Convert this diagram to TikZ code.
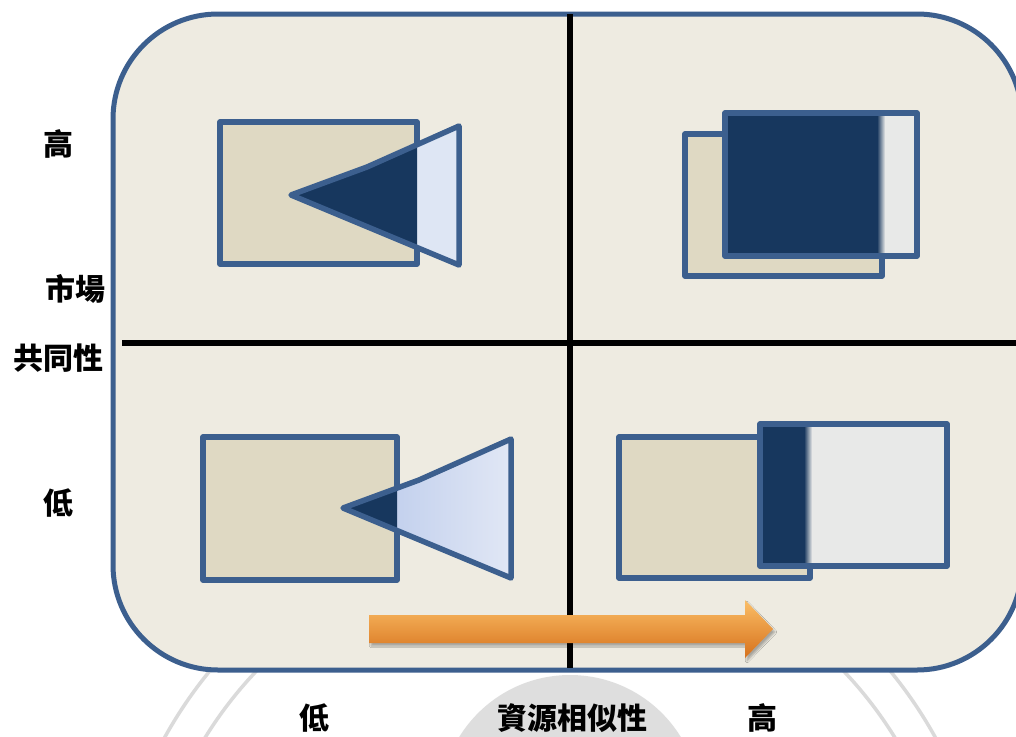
\documentclass[tikz,border=0pt]{standalone}
\usepackage{fontspec}
\newfontfamily\cjk{Noto Sans CJK TC}
\usetikzlibrary{shadows.blur}
\definecolor{bord}{HTML}{3C5F8E}
\definecolor{bg}{HTML}{EEEBE1}
\definecolor{beige}{HTML}{DFD9C3}
\definecolor{navy}{HTML}{17375E}
\definecolor{lblue}{HTML}{DEE6F4}
\definecolor{lgray}{HTML}{E8E9E8}
\definecolor{wmfill}{HTML}{DEDEDE}
\definecolor{wmline}{HTML}{DADADA}
\definecolor{gradA}{RGB}{182,199,234}
\definecolor{gradB}{RGB}{225,231,245}
\definecolor{orTop}{HTML}{FBBE66}
\definecolor{orMid}{HTML}{F79331}
\definecolor{orBot}{HTML}{D6711C}
\tikzset{
  box/.style={draw=bord, line width=5.5pt, line join=round},
  panel/.style={draw=bord, line width=5pt},
  axisline/.style={line width=6.5pt, black},
  lbl/.style={font=\cjk\bfseries\fontsize{30pt}{30pt}\selectfont, inner sep=0pt, text=black},
  wmring/.style={draw=wmline, line width=3.5pt}
}
\begin{document}
\begin{tikzpicture}[x=1pt,y=-1pt]
\useasboundingbox (0,0) rectangle (1016,736);
\fill[white] (0,0) rectangle (1016,736);
% faint watermark
\fill[wmfill] (570,805) circle (130);
\draw[wmring] (550,950) circle (440);
\draw[wmring] (550,950) circle (405);
% main panel
\draw[panel, fill=bg, rounded corners=105pt] (113,14) rectangle (1022,670);
% axes
\draw[axisline] (570,14) -- (570,668);
\draw[axisline] (122,343) -- (1016,343);
% top-left
\draw[box, fill=beige] (220,122) rectangle (417,264);
\fill[lblue] (291,195) -- (367,167) -- (459,126) -- (459,265) -- cycle;
\begin{scope}
  \clip (220,122) rectangle (417,264);
  \fill[navy] (291,195) -- (367,167) -- (459,126) -- (459,265) -- cycle;
\end{scope}
\draw[box] (291,195) -- (367,167) -- (459,126) -- (459,265) -- cycle;
% bottom-left
\draw[box, fill=beige] (203,437) rectangle (397,580);
\shade[left color=gradA, right color=gradB] (343,508) -- (419,480) -- (511,439) -- (511,578) -- cycle;
\begin{scope}
  \clip (203,437) rectangle (397,580);
  \fill[navy] (343,508) -- (419,480) -- (511,439) -- (511,578) -- cycle;
\end{scope}
\draw[box] (343,508) -- (419,480) -- (511,439) -- (511,578) -- cycle;
% top-right
\draw[box, fill=beige] (685,134) rectangle (882,276);
\fill[lgray] (725,113) rectangle (917,256);
\fill[navy] (725,113) rectangle (877,256);
\shade[left color=navy, right color=lgray] (877,113) rectangle (885,256);
\draw[box] (725,113) rectangle (917,256);
% bottom-right
\draw[box, fill=beige] (619,437) rectangle (810,578);
\fill[lgray] (760,424) rectangle (947,566);
\fill[navy] (760,424) rectangle (804,566);
\shade[left color=navy, right color=lgray] (804,424) rectangle (812,566);
\draw[box] (760,424) rectangle (947,566);
% arrow
\path[blur shadow={shadow xshift=2pt, shadow yshift=-3pt, shadow opacity=30, shadow blur steps=6},
      top color=orTop, middle color=orMid, bottom color=orBot]
  (369,615) -- (745,615) -- (745,600) -- (773,629) -- (745,658) -- (745,643) -- (369,643) -- cycle;
% labels
\node[lbl] (yhigh) at (58,144) {高};
\node[lbl] (ytitleA) at (75,289) {市場};
\node[lbl] (ytitleB) at (58,358) {共同性};
\node[lbl] (ylow) at (58,503) {低};
\node[lbl] (xlow) at (314,718) {低};
\node[lbl] (xtitle) at (572,718) {資源相似性};
\node[lbl] (xhigh) at (762,718) {高};
\end{tikzpicture}
\end{document}
